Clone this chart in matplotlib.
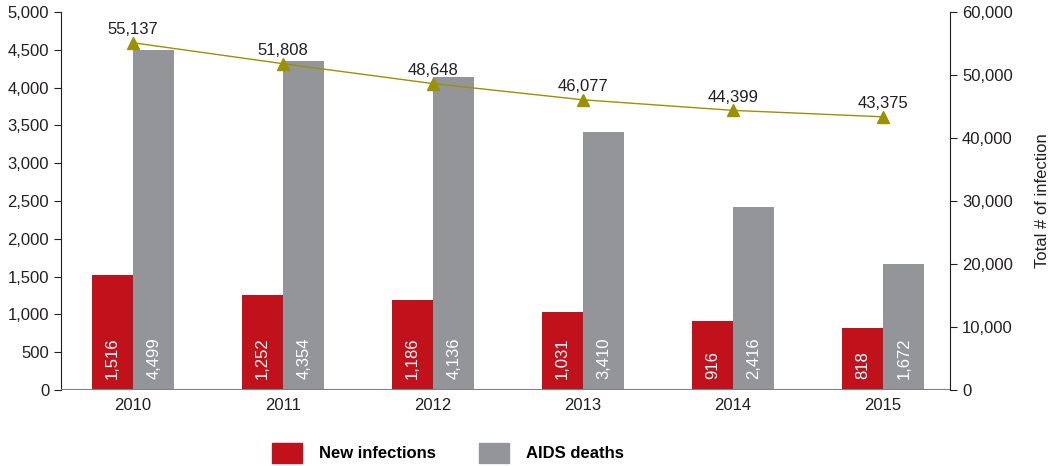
import matplotlib
matplotlib.use("Agg")
import matplotlib.pyplot as plt
import numpy as np
from matplotlib.patches import Patch

plt.rcParams['font.family'] = ['Liberation Sans Narrow', 'Liberation Sans', 'DejaVu Sans']

years = ['2010', '2011', '2012', '2013', '2014', '2015']
new_infections = [1516, 1252, 1186, 1031, 916, 818]
aids_deaths = [4499, 4354, 4136, 3410, 2416, 1672]
total_infection = [55137, 51808, 48648, 46077, 44399, 43375]

red = '#c1121c'
grey = '#939598'
olive = '#9c9100'
txt = '#231f20'

fig = plt.figure(figsize=(10.57, 4.66), dpi=100)
ax = fig.add_axes([0.0577, 0.163, 0.8413, 0.811])
ax2 = ax.twinx()

x = np.arange(len(years))
w = 0.275
b1 = ax.bar(x - w/2, new_infections, w, color=red, zorder=2)
b2 = ax.bar(x + w/2, aids_deaths, w, color=grey, zorder=2)

# rotated white value labels at the foot of each bar
for bars, vals in ((b1, new_infections), (b2, aids_deaths)):
    for r, v in zip(bars, vals):
        ax.text(r.get_x() + r.get_width()/2, 150, f'{v:,}', rotation=90,
                ha='center', va='bottom', color='white', fontsize=12, zorder=3)

ax.axhline(0, color='#808080', lw=1.5, zorder=3)
ax.set_xlim(-0.48, 5.447)
ax.set_ylim(0, 5000)
ax.set_yticks(np.arange(0, 5001, 500))
ax.yaxis.set_major_formatter(matplotlib.ticker.FuncFormatter(lambda v, p: f'{int(v):,}'))
ax.set_xticks(x)
ax.set_xticklabels(years)
ax.tick_params(axis='x', length=0, labelsize=12, colors=txt, pad=6)
ax.tick_params(axis='y', length=5, labelsize=12, colors=txt, direction='out')
for s in ['top', 'right', 'bottom']:
    ax.spines[s].set_visible(False)
ax.spines['left'].set_color('#231f20')

ax2.plot(x, total_infection, color=olive, lw=1, marker='^', markersize=9, zorder=4)
for xi, v in zip(x, total_infection):
    ax2.annotate(f'{v:,}', (xi, v), xytext=(0, 4), textcoords='offset points',
                 ha='center', va='bottom', fontsize=12, color=txt)
ax2.set_ylim(0, 60000)
ax2.set_yticks(np.arange(0, 60001, 10000))
ax2.yaxis.set_major_formatter(matplotlib.ticker.FuncFormatter(lambda v, p: f'{int(v):,}'))
ax2.tick_params(axis='y', length=5, labelsize=12, colors=txt)
for s in ['top', 'left', 'bottom']:
    ax2.spines[s].set_visible(False)
ax2.spines['right'].set_color('#231f20')
ax2.set_ylabel('Total # of infection', fontsize=12, color=txt, labelpad=16)

handles = [Patch(color=red), Patch(color=grey)]
fig.legend(handles, ['New infections', 'AIDS deaths'], loc='center',
           bbox_to_anchor=(0.424, 0.028), ncol=2, frameon=False,
           handlelength=1.8, handleheight=1.4, handletextpad=1.0, columnspacing=2.6,
           prop={'weight': 'bold', 'size': 12})

fig.savefig('out.png', dpi=100)
